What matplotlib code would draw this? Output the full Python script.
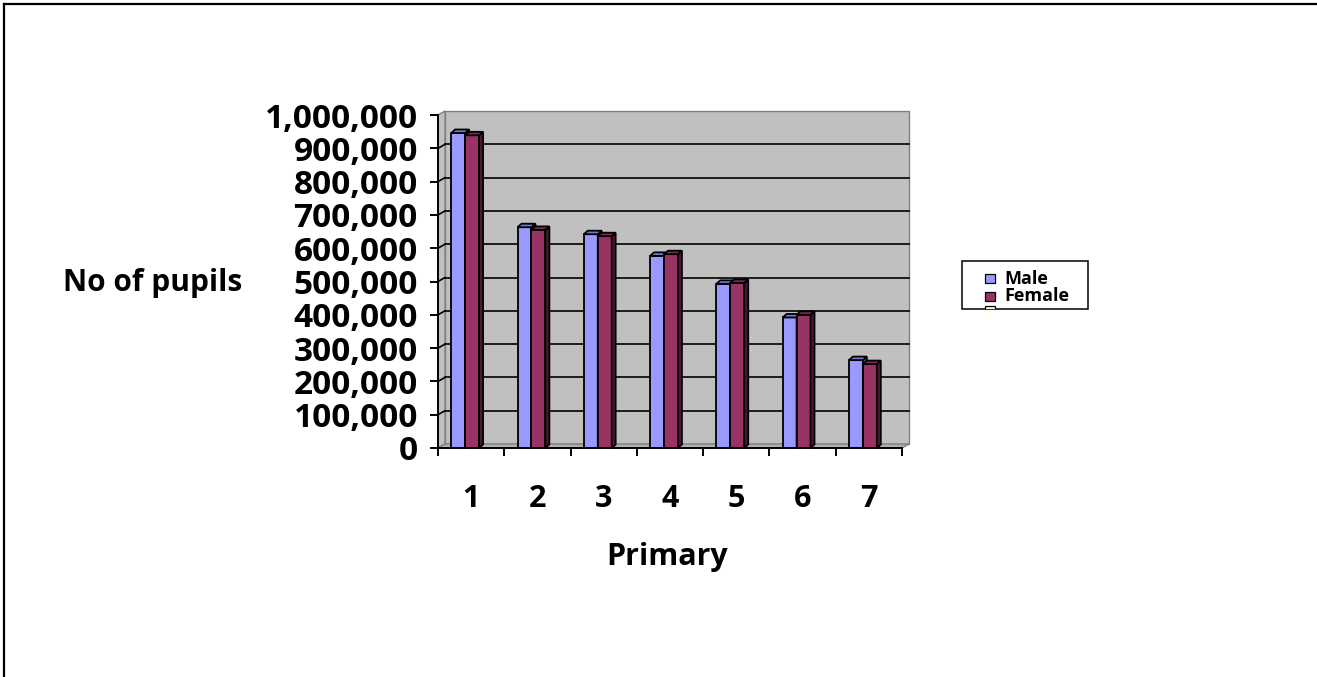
import matplotlib
matplotlib.use("Agg")
import matplotlib.pyplot as plt
from matplotlib.patches import Polygon, Rectangle
from matplotlib.ticker import FuncFormatter

# -------------------------------
# data
# -------------------------------
grades = ["1", "2", "3", "4", "5", "6", "7"]
male = [946000, 663000, 642000, 577000, 493000, 392000, 264000]
female = [939000, 655000, 636000, 582000, 496000, 400000, 252000]
y_ticks = list(range(0, 1000001, 100000))

plt.rcParams["font.family"] = ["Open Sans", "DejaVu Sans"]

male_col = "#9999FF"
male_side = "#4C4C80"
male_top = "#7A7ACC"
fem_col = "#993366"
fem_side = "#4C1933"
fem_top = "#7A2952"

W, H = 1317, 677
fig = plt.figure(figsize=(W / 100, H / 100), dpi=100)
fig.patch.set_facecolor("white")

# front plane of the plot area, in pixels
x0p, x1p, y0p, y1p = 438, 902, 448, 115
ax = fig.add_axes([x0p / W, 1 - y0p / H, (x1p - x0p) / W, (y0p - y1p) / H])
ax.set_xlim(0.5, len(grades) + 0.5)
ax.set_ylim(0, 1000000)
ax.set_facecolor("none")

# 3d offsets (wall depth and bar depth)
dx, dy = 0.106, 12000
dxb, dyb = 0.06, 10500
xl, xr = 0.5, len(grades) + 0.5

# -------------------------------
# walls + floor
# -------------------------------
wall_kw = dict(facecolor="#C0C0C0", edgecolor="#808080", lw=1.0, clip_on=False, zorder=0.5)
ax.add_patch(Polygon([(xl + dx, dy), (xr + dx, dy), (xr + dx, 1e6 + dy), (xl + dx, 1e6 + dy)], **wall_kw))
ax.add_patch(Polygon([(xl, 0), (xl + dx, dy), (xl + dx, 1e6 + dy), (xl, 1e6)], **wall_kw))
ax.add_patch(Polygon([(xl, 0), (xr, 0), (xr + dx, dy), (xl + dx, dy)],
                     facecolor="#B0B0B0", edgecolor="#808080", lw=1.0, clip_on=False, zorder=0.6))

for v in y_ticks[1:-1]:
    ax.plot([xl + dx, xr + dx], [v + dy, v + dy], color="black", lw=1.2, clip_on=False, zorder=0.7)
    ax.plot([xl, xl + dx], [v, v + dy], color="black", lw=1.2, clip_on=False, zorder=0.7)

# -------------------------------
# bars (front face via ax.bar, top and side faces as polygons)
# -------------------------------
pos = list(range(1, len(grades) + 1))
bw = 0.21
series = [(male, -0.30, male_col, male_side, male_top, 3),
          (female, -0.09, fem_col, fem_side, fem_top, 4)]
for vals, off, fc, sc, tc, z in series:
    lefts = [p + off for p in pos]
    ax.bar(lefts, vals, width=bw, align="edge", color=fc, edgecolor="black", lw=1.3, zorder=z)
    for xa, h in zip(lefts, vals):
        xb = xa + bw
        ax.add_patch(Polygon([(xb, 0), (xb + dxb, dyb), (xb + dxb, h + dyb), (xb, h)],
                             facecolor=sc, edgecolor="black", lw=1.3, zorder=z, clip_on=False))
        ax.add_patch(Polygon([(xa, h), (xb, h), (xb + dxb, h + dyb), (xa + dxb, h + dyb)],
                             facecolor=tc, edgecolor="black", lw=1.3, zorder=z, clip_on=False))

# -------------------------------
# axes, ticks, labels
# -------------------------------
for s in ["top", "right"]:
    ax.spines[s].set_visible(False)
for s in ["left", "bottom"]:
    ax.spines[s].set_linewidth(1.4)
    ax.spines[s].set_zorder(5)

ax.set_yticks(y_ticks)
ax.yaxis.set_major_formatter(FuncFormatter(lambda v, p: f"{int(v):,}"))
ax.tick_params(axis="y", length=6, width=1.4, pad=8.5, labelsize=24)
for t in ax.get_yticklabels():
    t.set_fontweight("bold")

ax.set_xticks([p - 0.5 for p in pos] + [xr])
ax.set_xticklabels([])
ax.tick_params(axis="x", which="major", length=6, width=1.4)
ax.set_xticks(pos, minor=True)
ax.set_xticklabels(grades, minor=True, fontsize=22, fontweight="bold")
ax.tick_params(axis="x", which="minor", length=0, pad=26)

ax.set_ylabel("No of pupils", rotation=0, fontsize=21.5, fontweight="bold", va="center", ha="center")
ax.yaxis.set_label_coords((153 - x0p) / (x1p - x0p), (y0p - 283) / (y0p - y1p))
ax.set_xlabel("Primary", fontsize=22, fontweight="bold", va="center", ha="center")
ax.xaxis.set_label_coords((667 - x0p) / (x1p - x0p), (y0p - 557) / (y0p - y1p))

# -------------------------------
# frame lines and legend (pixel overlay)
# -------------------------------
ov = fig.add_axes([0, 0, 1, 1])
ov.set_xlim(0, W)
ov.set_ylim(H, 0)
ov.axis("off")
ov.plot([3.7, 3.7], [4.3, H], color="black", lw=1.6)
ov.plot([3.7, W], [4.3, 4.3], color="black", lw=1.6)

box = Rectangle((962, 261), 126, 47.5, facecolor="white", edgecolor="black", lw=1.1)
ov.add_patch(box)
ov.add_patch(Rectangle((985, 274.3), 9.5, 9, facecolor=male_col, edgecolor="black", lw=0.9))
ov.add_patch(Rectangle((985, 291.7), 9.5, 9, facecolor=fem_col, edgecolor="black", lw=0.9))
extra = Rectangle((985, 305.5), 9.5, 9, facecolor="#FFFFCC", edgecolor="black", lw=0.9)
ov.add_patch(extra)
extra.set_clip_path(box)
ov.text(1004, 278.8, "Male", fontsize=13, fontweight="bold", va="center", ha="left")
ov.text(1004, 296.2, "Female", fontsize=13, fontweight="bold", va="center", ha="left")

fig.savefig("out.png", dpi=100)
